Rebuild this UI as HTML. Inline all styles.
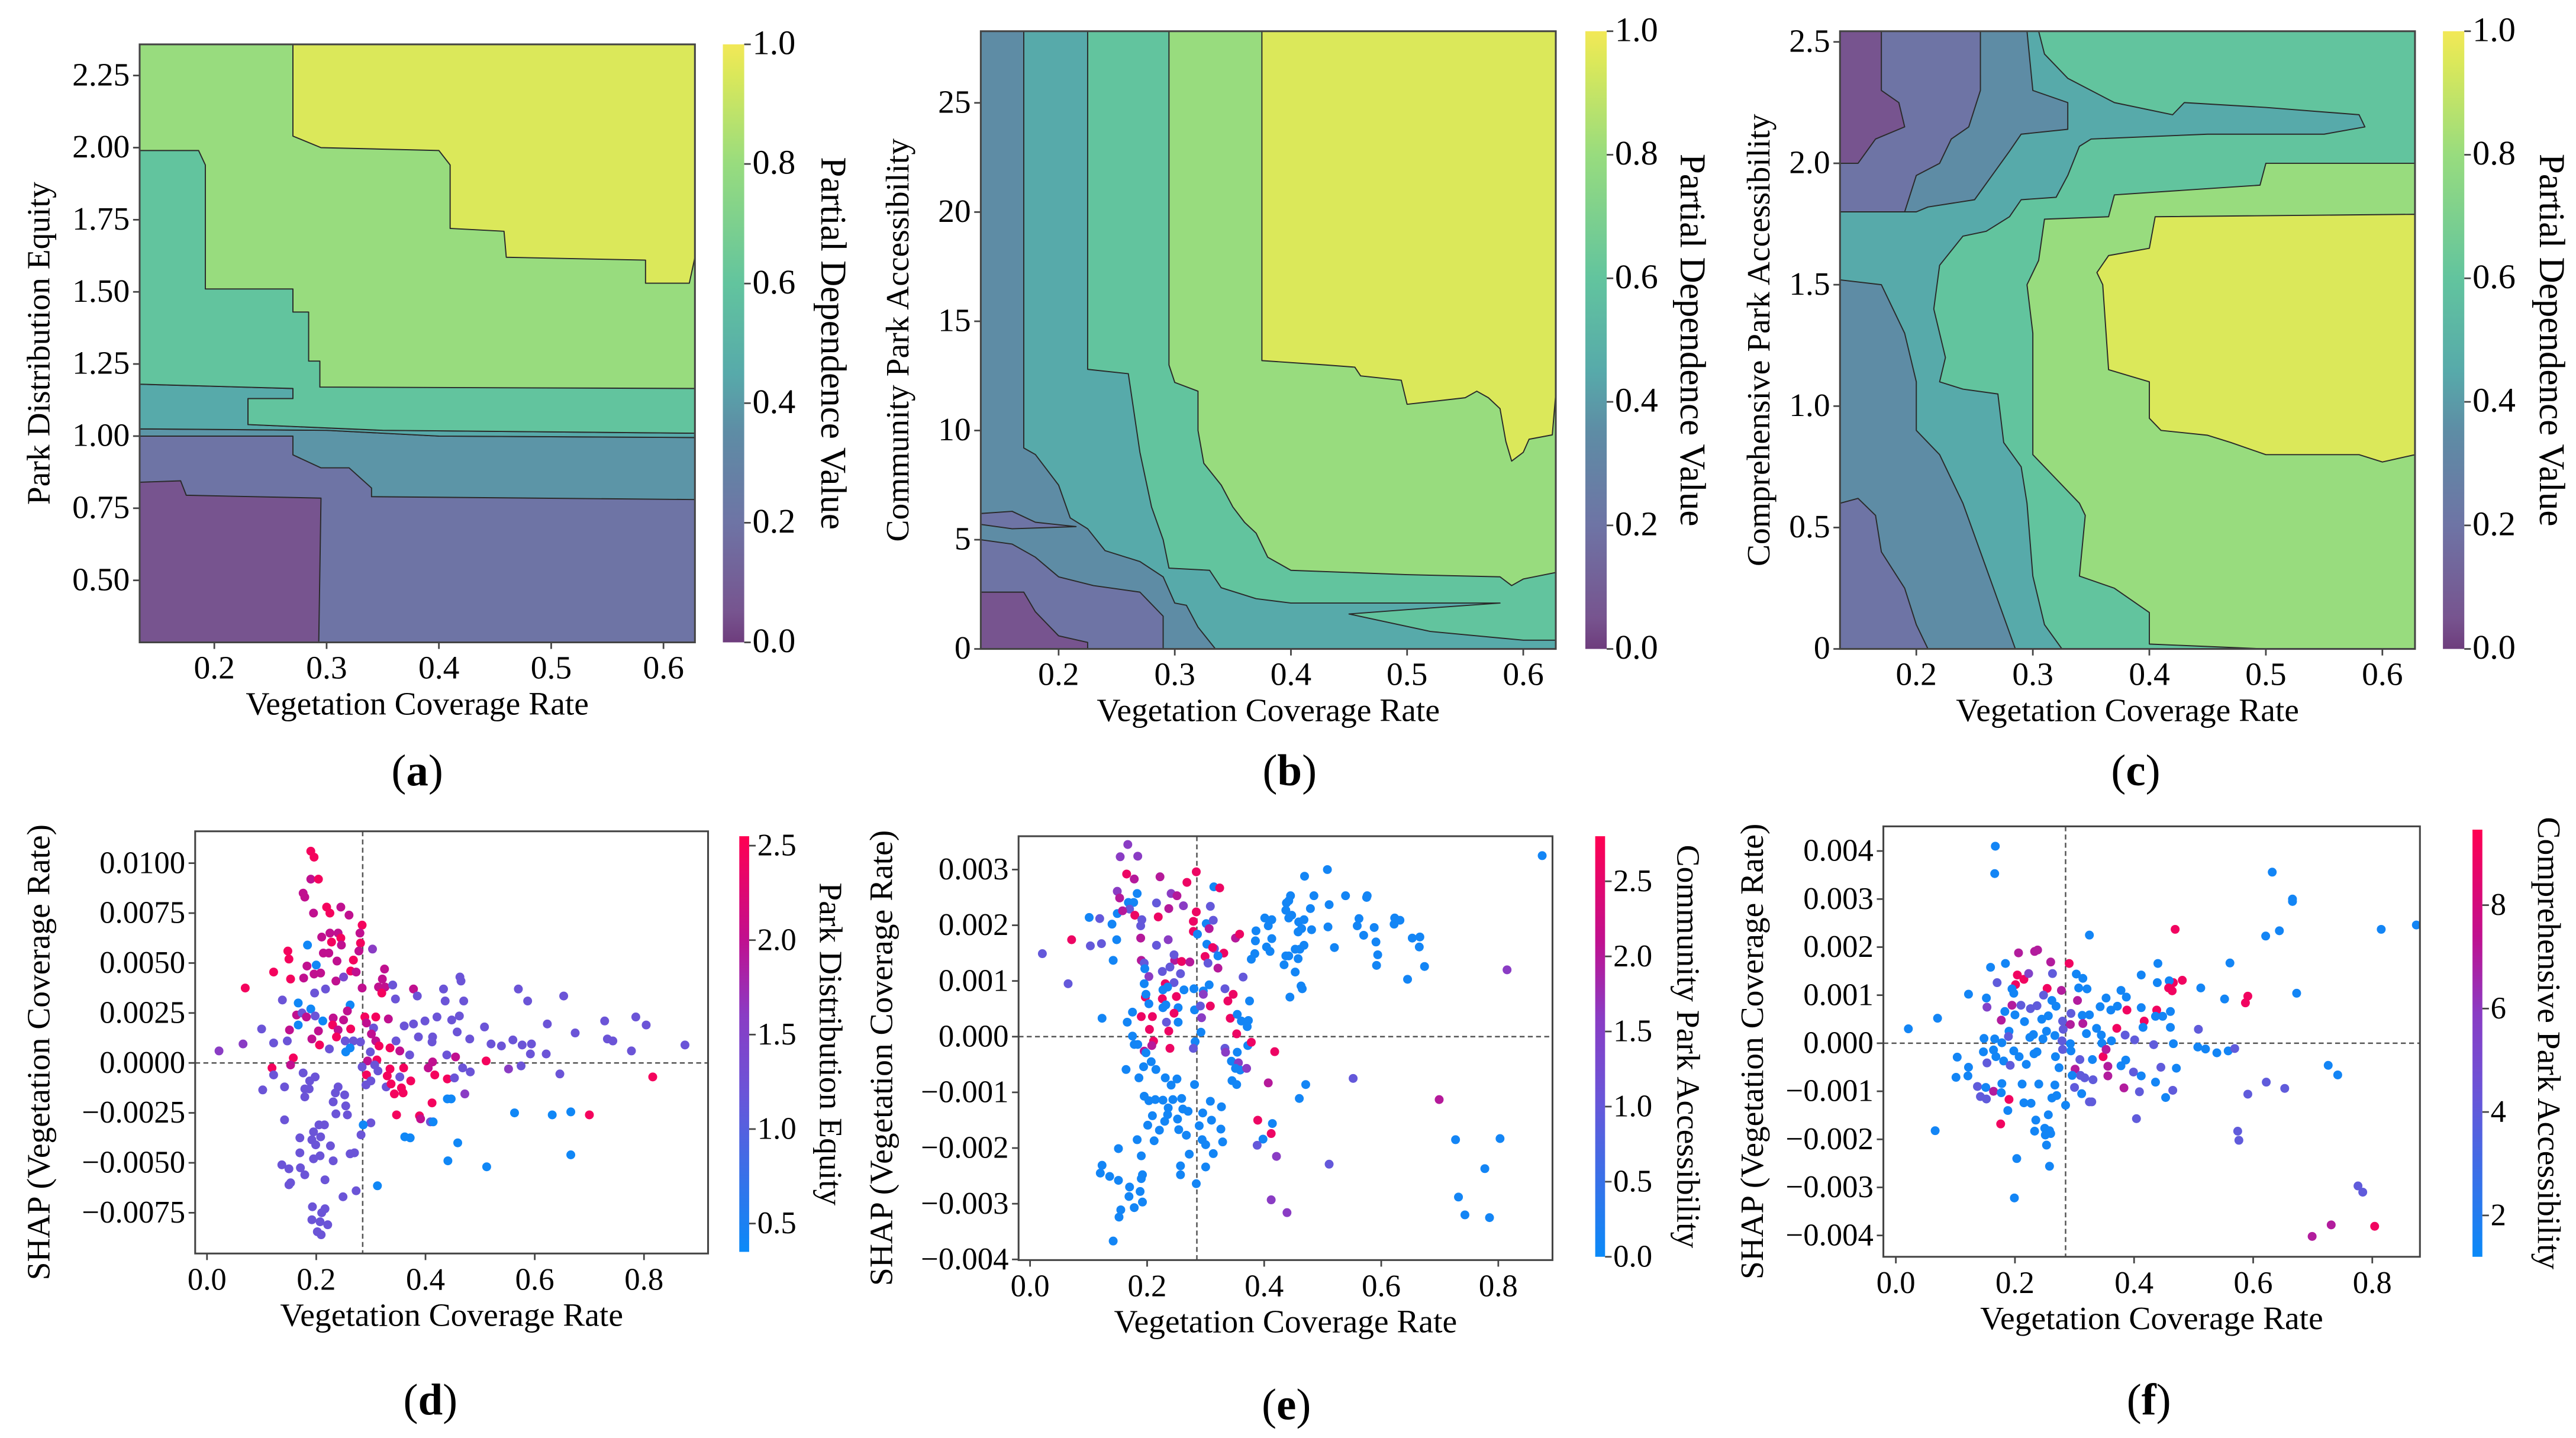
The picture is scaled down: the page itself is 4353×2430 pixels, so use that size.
<!DOCTYPE html>
<html><head><meta charset="utf-8">
<style>
html,body{margin:0;padding:0;background:#fff;}
svg{display:block;font-family:"Liberation Serif","DejaVu Serif",serif;}
svg text{font-family:"Liberation Serif","DejaVu Serif",serif;}
</style></head>
<body>
<svg id="fig" width="4353" height="2430" viewBox="0 0 1568 875.3" preserveAspectRatio="none" xmlns="http://www.w3.org/2000/svg" font-family="Liberation Serif, serif"></svg>
<script>
// ---------- Contour region data (data coordinates; [level, points]) ----------
const aRegions = [
 [0.8,[[0.1335,0.285],[0.628,0.285],[0.628,2.358],[0.1335,2.358]]],
 [0.2,[[0.1335,0.285],[0.628,0.285],[0.628,1.0],[0.1335,1.0]]],
 [0.38,[[0.1335,1.025],[0.3,1.02],[0.4,1.0],[0.628,0.995],[0.628,0.78],[0.34,0.79],[0.34,0.82],[0.32,0.89],[0.295,0.89],[0.27,0.935],[0.27,1.0],[0.1335,1.0]]],
 [0.45,[[0.1335,1.18],[0.27,1.165],[0.27,1.13],[0.23,1.13],[0.23,1.04],[0.35,1.02],[0.628,1.01],[0.628,0.995],[0.4,1.0],[0.3,1.02],[0.1335,1.025]]],
 [0.6,[[0.1335,1.99],[0.186,1.99],[0.192,1.94],[0.192,1.51],[0.27,1.51],[0.27,1.43],[0.284,1.43],[0.284,1.26],[0.294,1.26],[0.294,1.17],[0.628,1.165],[0.628,1.01],[0.35,1.02],[0.23,1.04],[0.23,1.13],[0.27,1.13],[0.27,1.165],[0.1335,1.18]]],
 [0.95,[[0.27,2.358],[0.628,2.358],[0.628,1.62],[0.623,1.53],[0.584,1.53],[0.584,1.61],[0.46,1.62],[0.458,1.71],[0.41,1.72],[0.41,1.94],[0.4,1.99],[0.295,2.0],[0.27,2.04]]],
 [0.05,[[0.1335,0.84],[0.17,0.845],[0.175,0.795],[0.295,0.785],[0.293,0.285],[0.1335,0.285]]]
];
const bRegions = [
 [0.8,[[0.133,0],[0.628,0],[0.628,28.28],[0.133,28.28]]],
 [0.6,[[0.133,28.28],[0.295,28.28],[0.295,13],[0.3,12.2],[0.32,11.8],[0.32,10],[0.325,8.5],[0.34,7.5],[0.35,6.5],[0.36,5.8],[0.37,5.3],[0.38,4.2],[0.4,3.6],[0.5,3.4],[0.58,3.3],[0.59,2.9],[0.6,3.2],[0.628,3.5],[0.628,0],[0.133,0]]],
 [0.45,[[0.133,28.28],[0.225,28.28],[0.225,12.8],[0.26,12.6],[0.27,9],[0.28,6.5],[0.29,5],[0.295,3.7],[0.33,3.6],[0.34,2.8],[0.37,2.3],[0.4,2.1],[0.5,2.1],[0.58,2.1],[0.5,1.8],[0.45,1.6],[0.52,0.8],[0.6,0.4],[0.628,0.4],[0.628,0],[0.133,0]]],
 [0.35,[[0.133,28.28],[0.17,28.28],[0.17,9.2],[0.18,8.9],[0.2,7.5],[0.21,6],[0.225,5.5],[0.24,4.5],[0.27,4.0],[0.29,3.3],[0.3,2.1],[0.31,2.0],[0.32,1.0],[0.335,0],[0.133,0]]],
 [0.2,[[0.133,5.0],[0.16,4.8],[0.18,4.2],[0.2,3.3],[0.23,2.9],[0.27,2.6],[0.29,1.5],[0.29,0],[0.133,0]]],
 [0.2,[[0.133,6.2],[0.16,6.3],[0.18,5.8],[0.215,5.6],[0.16,5.5],[0.133,5.7]]],
 [0.05,[[0.133,2.6],[0.17,2.6],[0.18,1.7],[0.2,0.6],[0.225,0.3],[0.225,0],[0.133,0]]],
 [0.95,[[0.375,28.28],[0.628,28.28],[0.628,11.7],[0.625,9.8],[0.605,9.6],[0.6,9.0],[0.59,8.6],[0.585,9.5],[0.58,11],[0.57,11.5],[0.56,11.8],[0.55,11.5],[0.5,11.2],[0.495,12.3],[0.46,12.5],[0.455,12.9],[0.43,13],[0.375,13.2]]]
];
const cRegions = [
 [0.6,[[0.1345,0],[0.628,0],[0.628,2.544],[0.1345,2.544]]],
 [0.8,[[0.4,0.02],[0.5,0],[0.628,0],[0.628,2.0],[0.5,2.0],[0.495,1.91],[0.37,1.87],[0.365,1.78],[0.31,1.77],[0.305,1.6],[0.295,1.5],[0.3,1.3],[0.3,0.8],[0.32,0.7],[0.34,0.6],[0.345,0.55],[0.34,0.3],[0.37,0.25],[0.4,0.15]]],
 [0.95,[[0.405,1.78],[0.628,1.79],[0.628,0.8],[0.6,0.77],[0.58,0.8],[0.5,0.8],[0.47,0.85],[0.45,0.88],[0.41,0.9],[0.4,0.95],[0.4,1.1],[0.365,1.15],[0.36,1.5],[0.355,1.55],[0.365,1.62],[0.4,1.65]]],
 [0.45,[[0.1345,2.544],[0.305,2.544],[0.31,2.45],[0.33,2.35],[0.37,2.25],[0.42,2.2],[0.43,2.25],[0.5,2.23],[0.58,2.2],[0.585,2.15],[0.55,2.12],[0.45,2.12],[0.35,2.1],[0.34,2.07],[0.33,1.95],[0.32,1.86],[0.29,1.85],[0.28,1.78],[0.26,1.72],[0.24,1.7],[0.22,1.58],[0.215,1.4],[0.225,1.2],[0.22,1.1],[0.24,1.07],[0.27,1.05],[0.275,0.85],[0.29,0.75],[0.295,0.6],[0.3,0.3],[0.31,0.1],[0.325,0],[0.1345,0]]],
 [0.35,[[0.1345,2.544],[0.295,2.544],[0.3,2.3],[0.33,2.25],[0.33,2.14],[0.29,2.12],[0.28,2.05],[0.265,1.95],[0.25,1.85],[0.21,1.82],[0.2,1.8],[0.1345,1.8]]],
 [0.35,[[0.1345,1.52],[0.17,1.5],[0.19,1.3],[0.2,1.1],[0.2,0.9],[0.22,0.8],[0.24,0.6],[0.255,0.4],[0.27,0.2],[0.285,0],[0.1345,0]]],
 [0.2,[[0.17,2.544],[0.255,2.544],[0.255,2.3],[0.245,2.15],[0.23,2.1],[0.22,2.0],[0.2,1.95],[0.19,1.8],[0.1345,1.8],[0.1345,2.544]]],
 [0.2,[[0.1345,0.6],[0.15,0.62],[0.165,0.55],[0.17,0.4],[0.19,0.25],[0.2,0.1],[0.21,0],[0.1345,0]]],
 [0.05,[[0.1345,2.544],[0.17,2.544],[0.17,2.3],[0.185,2.25],[0.19,2.15],[0.165,2.1],[0.15,2.0],[0.1345,2.0]]]
];
const aXTicks=[0.2,0.3,0.4,0.5,0.6];
const aYTicks=[0.5,0.75,1.0,1.25,1.5,1.75,2.0,2.25];
const bYTicks=[0,5,10,15,20,25];
const cYTicks=[0,0.5,1.0,1.5,2.0,2.5];
const cbTicks=[0,0.2,0.4,0.6,0.8,1.0];

// ---------- Scatter data [x, shap(x1e-3), colour feature] ----------
const dPoints=[[.19,10.6,2.45],[.196,10.3,2.45],[.19,9.2,2.0],[.204,9.2,2.45],[.176,8.5,2.0],[.179,8.3,2.0],[.195,7.5,2.0],[.219,7.8,2.45],[.225,7.5,2.45],[.245,7.8,2.0],[.26,7.4,2.0],[.284,6.9,2.45],[.28,6.5,2.0],[.281,6.0,2.45],[.225,6.5,2.0],[.24,6.5,2.0],[.245,6.25,2.45],[.228,6.05,2.45],[.246,5.9,2.0],[.21,6.3,2.0],[.148,5.6,2.45],[.15,5.2,2.45],[.184,5.9,0.4],[.213,5.5,2.0],[.223,5.5,2.0],[.238,5.1,2.0],[.268,5.15,2.45],[.278,5.6,2.0],[.303,5.7,1.6],[.2,4.9,0.4],[.183,4.85,2.0],[.208,4.5,2.0],[.196,4.45,2.0],[.122,4.55,2.45],[.263,4.6,2.45],[.273,4.55,2.0],[.325,4.7,2.0],[.177,4.25,2.0],[.236,4.1,2.0],[.25,4.3,1.4],[.153,4.2,2.45],[.07,3.75,2.45],[.284,3.75,2.0],[.314,3.8,2.0],[.326,3.8,2.0],[.321,4.2,2.0],[.32,3.5,2.45],[.34,3.9,1.2],[.378,3.7,2.0],[.433,3.7,1.2],[.463,4.3,1.2],[.465,4.1,1.2],[.57,3.7,1.2],[.653,3.35,1.2],[.587,3.1,1.2],[.138,3.15,1.2],[.167,3.0,0.4],[.19,2.7,0.4],[.262,2.9,0.4],[.345,3.2,1.2],[.436,3.1,1.2],[.47,3.1,1.2],[.385,3.35,1.2],[.197,3.5,1.2],[.217,3.7,1.2],[.164,2.4,2.0],[.174,2.5,1.2],[.182,2.3,2.0],[.198,2.35,1.2],[.212,2.1,0.4],[.231,2.25,2.0],[.25,2.15,2.0],[.257,2.6,2.0],[.289,2.3,2.45],[.309,2.3,2.45],[.332,2.2,2.0],[.421,2.3,1.2],[.448,2.15,1.2],[.462,2.35,1.2],[.399,2.1,1.2],[.361,1.85,1.2],[.378,1.95,1.2],[.623,1.95,1.2],[.728,2.1,1.2],[.785,2.3,1.2],[.804,1.9,1.2],[.1,1.7,1.2],[.151,1.65,2.0],[.167,1.9,0.4],[.204,1.6,2.0],[.23,1.9,2.45],[.24,1.65,2.0],[.263,1.7,2.45],[.292,2.0,2.0],[.305,1.75,1.2],[.301,1.45,2.0],[.508,1.8,1.2],[.458,1.55,1.2],[.674,1.5,1.2],[.733,1.2,1.2],[.743,1.1,1.2],[.066,0.95,1.6],[.022,0.6,1.6],[.122,1.0,1.2],[.147,1.1,1.2],[.192,1.2,2.0],[.206,0.9,2.45],[.224,0.7,1.2],[.237,1.3,2.45],[.253,1.1,1.2],[.268,1.1,1.2],[.281,1.05,1.2],[.309,1.1,2.0],[.315,0.85,2.45],[.335,0.75,2.45],[.346,1.1,1.2],[.387,1.3,1.2],[.412,1.05,1.2],[.413,1.3,1.2],[.481,1.2,1.2],[.52,0.95,1.2],[.539,0.85,1.2],[.56,1.15,1.2],[.577,0.9,1.2],[.594,0.95,1.2],[.592,0.45,1.2],[.621,0.45,1.2],[.777,0.6,1.2],[.875,0.9,1.2],[.254,0.55,0.4],[.262,0.75,0.4],[.299,0.55,1.2],[.294,0.1,2.0],[.311,0.15,2.45],[.353,0.6,2.0],[.371,0.4,1.2],[.439,0.4,1.2],[.455,0.3,2.0],[.511,0.1,2.45],[.158,0.25,2.45],[.153,-0.1,2.0],[.119,-0.25,2.45],[.122,-0.6,1.2],[.284,-0.2,1.2],[.307,-0.1,1.2],[.313,-0.4,1.2],[.335,-0.3,2.45],[.36,-0.25,2.45],[.405,-0.25,2.0],[.413,0.05,2.0],[.468,-0.25,1.2],[.482,-0.45,1.2],[.552,-0.3,1.6],[.575,-0.15,1.2],[.646,-0.55,1.2],[.816,-0.7,2.45],[.292,-0.6,2.45],[.33,-0.65,2.45],[.353,-0.7,1.2],[.417,-0.6,2.45],[.44,-0.8,2.45],[.453,-0.75,1.2],[.176,-0.5,1.2],[.198,-0.7,1.2],[.188,-0.9,1.2],[.102,-1.35,1.2],[.142,-1.2,1.2],[.179,-1.3,1.2],[.187,-1.3,1.2],[.179,-1.7,1.2],[.24,-1.2,1.2],[.235,-1.5,1.2],[.252,-1.6,1.2],[.291,-1.1,1.2],[.3,-0.9,1.2],[.328,-1.2,1.2],[.337,-1.05,2.45],[.343,-1.55,2.45],[.356,-1.25,2.45],[.359,-1.5,2.45],[.373,-0.9,2.45],[.472,-1.55,1.6],[.231,-1.95,1.2],[.254,-2.15,1.2],[.236,-2.55,1.2],[.257,-2.6,1.2],[.347,-2.6,2.45],[.389,-2.65,2.45],[.391,-2.8,2.0],[.412,-2.0,2.45],[.409,-2.95,1.2],[.414,-2.95,0.4],[.44,-1.8,0.4],[.447,-1.8,0.4],[.563,-2.5,0.4],[.632,-2.6,0.4],[.666,-2.45,0.4],[.7,-2.6,2.45],[.142,-2.85,1.2],[.3,-3.0,1.2],[.286,-3.1,0.4],[.282,-3.6,1.2],[.205,-3.1,1.2],[.215,-3.1,1.2],[.195,-3.45,1.2],[.208,-3.7,1.2],[.17,-3.75,1.2],[.192,-3.85,1.2],[.199,-4.1,1.2],[.226,-4.15,1.2],[.362,-3.7,0.4],[.372,-3.75,0.4],[.459,-4.0,0.4],[.17,-4.5,1.2],[.207,-4.65,1.2],[.195,-4.8,1.2],[.231,-4.9,1.2],[.262,-4.55,1.2],[.27,-4.5,1.2],[.137,-5.1,1.2],[.15,-5.3,1.2],[.171,-5.25,1.2],[.179,-5.6,1.2],[.216,-5.85,1.2],[.153,-6.0,1.2],[.15,-6.1,1.2],[.273,-6.4,1.2],[.249,-6.7,1.2],[.312,-6.15,0.4],[.441,-4.9,0.4],[.512,-5.2,0.4],[.666,-4.6,0.4],[.193,-7.2,1.2],[.216,-7.3,1.2],[.192,-7.85,1.2],[.21,-7.5,1.2],[.207,-7.95,1.2],[.221,-8.1,1.2],[.202,-8.45,1.2],[.209,-8.6,1.2]];
const ePoints=[[.167,3.45,1.6],[.154,3.23,1.6],[.184,3.24,1.6],[.165,2.92,2.6],[.178,2.83,2.0],[.222,2.87,2.0],[.284,2.96,2.6],[.268,2.77,2.6],[.314,2.69,0.1],[.324,2.67,2.6],[.149,2.61,1.6],[.153,2.49,2.0],[.183,2.57,0.1],[.168,2.41,0.1],[.177,2.41,0.1],[.241,2.57,1.6],[.251,2.53,2.0],[.216,2.4,1.0],[.262,2.35,1.6],[.308,2.34,1.0],[.284,2.24,2.6],[.149,2.21,0.1],[.17,2.29,1.0],[.158,2.26,2.0],[.237,2.3,2.0],[.179,2.18,2.6],[.219,2.15,2.6],[.101,2.14,0.1],[.119,2.12,1.0],[.14,2.02,0.1],[.191,2.1,1.0],[.189,1.99,1.0],[.279,2.07,2.6],[.301,2.03,0.1],[.313,2.09,1.0],[.306,1.94,2.0],[.279,1.89,2.6],[.286,1.84,0.1],[.071,1.74,2.6],[.148,1.74,0.1],[.189,1.77,2.0],[.236,1.74,1.6],[.351,1.77,2.0],[.358,1.84,2.6],[.103,1.63,1.0],[.122,1.67,1.0],[.021,1.49,1.0],[.216,1.64,1.0],[.302,1.66,0.1],[.315,1.58,1.0],[.312,1.6,2.6],[.331,1.5,2.6],[.299,1.44,2.6],[.321,1.45,0.1],[.142,1.37,0.1],[.19,1.37,2.0],[.195,1.32,1.0],[.247,1.37,2.0],[.246,1.47,1.0],[.259,1.35,2.6],[.273,1.34,2.0],[.239,1.25,1.0],[.196,1.22,0.1],[.226,1.17,1.0],[.257,1.13,1.0],[.304,1.32,1.0],[.321,1.23,2.0],[.203,1.08,1.6],[.364,1.07,1.0],[.065,0.95,1.0],[.195,0.95,0.1],[.231,0.95,2.6],[.246,0.97,1.0],[.227,0.84,0.1],[.235,0.89,0.1],[.263,0.84,0.1],[.28,0.86,0.1],[.296,0.82,0.1],[.306,0.93,0.1],[.333,0.86,1.0],[.347,0.76,2.6],[.296,0.76,1.6],[.197,0.71,2.6],[.198,0.76,0.1],[.226,0.68,2.6],[.25,0.72,2.6],[.203,0.59,0.1],[.227,0.52,0.1],[.232,0.57,0.1],[.253,0.52,0.1],[.281,0.48,0.1],[.308,0.55,2.6],[.338,0.64,2.6],[.291,0.55,1.0],[.375,0.64,0.1],[.123,0.33,0.1],[.166,0.26,0.1],[.175,0.44,0.1],[.19,0.36,2.6],[.209,0.36,2.6],[.233,0.26,1.0],[.246,0.42,2.6],[.253,0.26,0.1],[.293,0.34,1.6],[.342,0.33,2.6],[.354,0.4,0.1],[.361,0.28,0.1],[.373,0.29,0.1],[.371,0.18,0.1],[.204,0.13,2.6],[.237,0.1,2.6],[.292,0.08,0.1],[.353,0.05,2.6],[.175,0.01,0.1],[.178,-0.14,0.1],[.184,-0.14,0.1],[.211,-0.08,2.6],[.208,-0.16,2.0],[.239,-0.21,2.6],[.195,-0.26,2.0],[.198,-0.29,0.1],[.282,-0.09,0.1],[.279,-0.21,1.0],[.333,-0.21,1.0],[.334,-0.28,1.6],[.354,-0.28,0.1],[.372,-0.16,0.1],[.378,-0.1,2.6],[.418,-0.27,2.6],[.344,-0.44,0.1],[.356,-0.47,1.6],[.207,-0.45,0.1],[.194,-0.54,0.1],[.215,-0.59,0.1],[.164,-0.59,0.1],[.351,-0.57,0.1],[.359,-0.6,0.1],[.37,-0.57,1.6],[.186,-0.74,0.1],[.231,-0.74,0.1],[.251,-0.76,0.1],[.241,-0.87,0.1],[.281,-0.86,0.1],[.345,-0.79,0.1],[.353,-0.86,0.1],[.407,-0.83,2.0],[.471,-0.86,0.1],[.552,-0.75,1.0],[.195,-1.07,0.1],[.203,-1.15,0.1],[.214,-1.13,0.1],[.227,-1.14,0.1],[.244,-1.13,0.1],[.259,-1.11,0.1],[.308,-1.16,0.1],[.327,-1.26,0.1],[.236,-1.28,0.1],[.261,-1.3,0.1],[.27,-1.34,0.1],[.46,-1.11,0.1],[.699,-1.13,2.0],[.209,-1.42,0.1],[.235,-1.4,0.1],[.252,-1.48,0.1],[.23,-1.52,0.1],[.295,-1.37,0.1],[.31,-1.5,0.1],[.201,-1.59,0.1],[.254,-1.67,0.1],[.289,-1.6,0.1],[.326,-1.66,0.1],[.221,-1.68,0.1],[.267,-1.77,0.1],[.389,-1.5,2.6],[.414,-1.56,0.1],[.412,-1.74,2.6],[.183,-1.85,0.1],[.212,-1.87,0.1],[.294,-1.85,0.1],[.3,-1.94,0.1],[.329,-1.89,0.1],[.398,-1.84,0.1],[.388,-1.95,1.0],[.727,-1.85,0.1],[.803,-1.83,0.1],[.151,-2.01,0.1],[.19,-2.14,0.1],[.272,-2.11,0.1],[.313,-2.1,0.1],[.421,-2.15,1.6],[.123,-2.31,0.1],[.12,-2.45,0.1],[.136,-2.51,0.1],[.151,-2.58,0.1],[.192,-2.48,0.1],[.19,-2.55,0.1],[.257,-2.32,0.1],[.257,-2.48,0.1],[.3,-2.34,0.1],[.511,-2.29,1.0],[.777,-2.37,0.1],[.17,-2.7,0.1],[.188,-2.78,0.1],[.169,-2.87,0.1],[.192,-2.97,0.1],[.284,-2.64,0.1],[.178,-3.07,0.1],[.155,-3.11,0.1],[.152,-3.24,0.1],[.412,-2.93,1.6],[.439,-3.16,1.6],[.732,-2.88,0.1],[.743,-3.2,0.1],[.785,-3.25,0.1],[.142,-3.67,0.1],[.815,1.2,1.6],[.875,3.25,0.1],[.508,3.0,0.1],[.469,2.88,0.1],[.445,2.53,0.1],[.438,2.4,0.1],[.442,2.44,0.1],[.437,2.27,0.1],[.447,2.18,0.1],[.442,2.13,0.1],[.485,2.53,0.1],[.539,2.53,0.1],[.576,2.53,0.1],[.575,2.5,0.1],[.511,2.37,0.1],[.479,2.3,0.1],[.401,2.13,0.1],[.413,2.1,0.1],[.407,1.99,0.1],[.386,1.9,0.1],[.459,2.06,0.1],[.468,2.1,0.1],[.464,1.94,0.1],[.458,1.88,0.1],[.481,1.92,0.1],[.509,1.97,0.1],[.562,2.12,0.1],[.559,1.99,0.1],[.588,1.96,0.1],[.57,1.82,0.1],[.622,2.02,0.1],[.623,2.13,0.1],[.632,2.09,0.1],[.653,1.77,0.1],[.666,1.79,0.1],[.665,1.61,0.1],[.674,1.26,0.1],[.591,1.7,0.1],[.594,1.47,0.1],[.592,1.28,0.1],[.645,1.03,0.1],[.385,1.72,0.1],[.404,1.61,0.1],[.41,1.53,0.1],[.413,1.76,0.1],[.384,1.49,0.1],[.378,1.39,0.1],[.434,1.29,0.1],[.437,1.45,0.1],[.442,1.45,0.1],[.453,1.57,0.1],[.461,1.57,0.1],[.468,1.64,0.1],[.458,1.4,0.1],[.453,1.16,0.1],[.52,1.6,0.1],[.463,0.91,0.1],[.465,0.86,0.1],[.444,0.71,0.1]];
const fPoints=[[.167,4.1,1.5],[.166,3.53,1.5],[.632,3.56,1.5],[.666,3.0,1.5],[.666,2.95,1.5],[.644,2.34,1.5],[.621,2.23,1.5],[.815,2.37,1.5],[.874,2.46,1.5],[.325,2.25,1.5],[.469,2.37,9],[.206,1.88,7],[.233,1.91,7],[.238,1.94,7],[.159,1.58,1.5],[.184,1.66,1.5],[.26,1.69,7],[.291,1.66,9],[.561,1.67,1.5],[.44,1.66,1.5],[.17,1.26,4],[.204,1.42,9],[.215,1.33,9],[.223,1.45,5.5],[.263,1.45,4],[.303,1.44,1.5],[.314,1.35,1.5],[.412,1.42,1.5],[.481,1.31,9],[.466,1.26,9],[.459,1.3,1.5],[.439,1.26,1.5],[.122,1.02,1.5],[.201,1.22,9],[.195,1.13,1.5],[.254,1.14,9],[.278,1.1,7],[.307,1.15,1.5],[.321,1.13,1.5],[.378,1.1,1.5],[.458,1.15,9],[.464,1.09,9],[.512,1.15,1.5],[.591,0.98,9],[.587,0.84,9],[.552,0.92,1.5],[.673,1.04,1.5],[.152,0.94,1.5],[.198,1.04,1.5],[.248,1.0,4],[.262,0.89,1.5],[.305,0.89,7],[.353,0.94,1.5],[.387,0.96,1.5],[.153,0.75,5.5],[.195,0.79,7],[.21,0.79,4],[.226,0.72,4],[.237,0.78,4],[.269,0.77,1.5],[.343,0.76,1.5],[.372,0.77,1.5],[.412,0.74,1.5],[.361,0.69,1.5],[.388,0.69,9],[.438,0.69,9],[.177,0.48,7],[.183,0.66,1.5],[.2,0.59,1.5],[.216,0.45,1.5],[.245,0.5,1.5],[.256,0.57,1.5],[.28,0.46,4],[.294,0.62,4],[.313,0.58,1.5],[.325,0.59,1.5],[.314,0.41,7],[.293,0.39,7],[.371,0.31,9],[.417,0.46,9],[.415,0.33,1.5],[.436,0.56,1.5],[.448,0.56,1.5],[.461,0.66,1.5],[.461,0.33,1.5],[.508,0.29,4],[.32,0.2,1.5],[.337,0.31,1.5],[.345,0.17,1.5],[.385,0.17,4],[.401,0.07,4],[.19,0.25,1.5],[.189,0.14,4],[.231,0.18,1.5],[.253,0.25,1.5],[.267,0.16,1.5],[.281,0.29,4],[.148,0.1,1.5],[.166,0.09,1.5],[.178,0.01,1.5],[.225,0.12,1.5],[.247,0.09,1.5],[.279,0.05,4],[.293,-0.01,1.5],[.346,0,1.5],[.362,0.05,1.5],[.433,-0.03,4],[.466,-0.01,1.5],[.507,-0.08,1.5],[.52,-0.12,1.5],[.539,-0.2,1.5],[.558,-0.16,1.5],[.569,-0.11,4],[.103,-0.29,1.5],[.147,-0.18,1.5],[.164,-0.14,1.5],[.168,-0.28,1.5],[.153,-0.41,4],[.122,-0.5,1.5],[.101,-0.71,1.5],[.121,-0.68,1.5],[.181,-0.37,1.5],[.192,-0.46,4],[.198,-0.16,1.5],[.207,-0.28,1.5],[.219,-0.44,1.5],[.232,-0.22,1.5],[.237,-0.18,1.5],[.268,-0.28,1.5],[.28,-0.13,4],[.294,-0.16,1.5],[.309,-0.34,4],[.33,-0.34,1.5],[.348,-0.28,9],[.353,-0.13,7],[.274,-0.51,1.5],[.301,-0.54,7],[.31,-0.67,4],[.296,-0.67,1.5],[.317,-0.72,4],[.331,-0.76,4],[.356,-0.48,7],[.356,-0.68,7],[.378,-0.47,1.5],[.386,-0.35,1.5],[.399,-0.6,4],[.412,-0.68,1.5],[.445,-0.5,4],[.471,-0.52,1.5],[.436,-0.81,1.5],[.137,-0.9,4],[.151,-0.92,1.5],[.164,-1.0,7],[.178,-0.84,1.5],[.177,-1.03,1.5],[.19,-1.17,9],[.142,-1.11,4],[.152,-1.16,4],[.212,-0.85,1.5],[.24,-0.85,1.5],[.267,-0.87,1.5],[.262,-1.14,1.5],[.27,-1.09,1.5],[.3,-0.92,4],[.312,-1.05,1.5],[.325,-1.22,4],[.329,-1.22,4],[.383,-0.93,7],[.409,-1.01,4],[.453,-1.13,1.5],[.465,-0.98,4],[.215,-1.24,1.5],[.227,-1.25,1.5],[.188,-1.4,1.5],[.285,-1.29,1.5],[.256,-1.49,1.5],[.235,-1.6,1.5],[.404,-1.57,4],[.726,-0.46,1.5],[.742,-0.66,1.5],[.622,-0.81,4],[.653,-0.94,4],[.591,-1.06,4],[.176,-1.68,9],[.066,-1.82,1.5],[.021,0.3,1.5],[.07,0.52,1.5],[.233,-1.83,1.5],[.25,-1.77,1.5],[.258,-1.82,1.5],[.251,-1.91,1.5],[.26,-1.88,1.5],[.253,-2.12,1.5],[.574,-1.83,4],[.576,-2.02,4],[.203,-2.4,1.5],[.258,-2.56,1.5],[.199,-3.22,1.5],[.776,-2.97,4],[.784,-3.1,4],[.731,-3.78,7],[.699,-4.02,7],[.804,-3.81,9]];
const scatterXTicks=[0,0.2,0.4,0.6,0.8];
const dYTicks=[-0.0075,-0.005,-0.0025,0,0.0025,0.005,0.0075,0.01];
const eYTicks=[-0.004,-0.003,-0.002,-0.001,0,0.001,0.002,0.003];
const fYTicks=[-0.004,-0.003,-0.002,-0.001,0,0.001,0.002,0.003,0.004];
const dCbTicks=[0.5,1.0,1.5,2.0,2.5];
const eCbTicks=[0,0.5,1.0,1.5,2.0,2.5];
const fCbTicks=[2,4,6,8];

// ---------- helpers ----------
const NS="http://www.w3.org/2000/svg";
const FONT='"Liberation Serif", "DejaVu Serif", serif';
const svg=document.getElementById('fig');
function el(tag,attrs,parent,text){const e=document.createElementNS(NS,tag);for(const k in attrs)e.setAttribute(k,attrs[k]);if(tag==='text')e.setAttribute('font-family',FONT);if(text!==undefined)e.textContent=text;(parent||svg).appendChild(e);return e;}
function lin(d0,d1,r0,r1){return v=>r0+(v-d0)/(d1-d0)*(r1-r0);}
function hex(c){return [parseInt(c.slice(1,3),16),parseInt(c.slice(3,5),16),parseInt(c.slice(5,7),16)];}
function ramp(stops,t){t=Math.max(0,Math.min(1,t));for(let i=1;i<stops.length;i++){if(t<=stops[i][0]){const a=stops[i-1],b=stops[i];const f=(t-a[0])/(b[0]-a[0]||1);const A=hex(a[1]),B=hex(b[1]);return 'rgb('+A.map((v,j)=>Math.round(v+(B[j]-v)*f)).join(',')+')';}}return stops[stops.length-1][1];}
const vir=[[0,'#6e3d7d'],[0.05,'#77548f'],[0.2,'#6e74a5'],[0.35,'#5e8ca5'],[0.45,'#57aaaa'],[0.6,'#62c49e'],[0.8,'#98dc7e'],[0.95,'#dbe85a'],[1,'#f2e857']];
const shapMap=[[0,'#0a8af8'],[0.38,'#6a55d8'],[0.57,'#8a3cc4'],[0.75,'#c0108f'],[1,'#ff0052']];
const defs=el('defs',{});
function gradient(id,stops){const g=el('linearGradient',{id:id,x1:0,y1:1,x2:0,y2:0},defs);stops.forEach(s=>el('stop',{offset:s[0],'stop-color':s[1]},g));}
gradient('gvir',vir);gradient('gshap',shapMap);

function fmt(v,dec){let s=Math.abs(v).toFixed(dec);return (v<0?'\u2212':'')+s;}

function axesFrame(g,box,xs,ys,xt,yt,xdec,ydec,fs){
  const [l,t,r,b]=box;
  el('rect',{x:l,y:t,width:r-l,height:b-t,fill:'none',stroke:'#444','stroke-width':1.1},g);
  xt.forEach(v=>{const x=xs(v);
    const tk=el('line',{x1:x,x2:x,y1:b,y2:b+4,stroke:'#444','stroke-width':1},g);
    
    const tx=el('text',{x:x,y:b+22,'text-anchor':'middle','font-size':fs},g,fmt(v,xdec));
    });
  yt.forEach(v=>{const y=ys(v);
    const tk=el('line',{x1:l-4,x2:l,y1:y,y2:y,stroke:'#444','stroke-width':1},g);
    
    const tx=el('text',{x:l-6,y:y+6,'text-anchor':'end','font-size':fs},g,typeof ydec==='function'?ydec(v):fmt(v,ydec));
    });
}
function label(g,x,y,txt,rot,fs,name){
  const t=el('text',{x:x,y:y,'text-anchor':'middle','font-size':fs,transform:rot?`rotate(${rot} ${x} ${y})`:''},g,txt);
  return t;
}
function colorbar(g,x,t,b,w,grad,dom,ticks,dec,fs,title,tx,ty){
  const cs=lin(dom[0],dom[1],b,t);
  const r=el('rect',{x:x,y:t,width:w,height:b-t,fill:`url(#${grad})`},g);
  
  ticks.forEach(v=>{const y=cs(v);el('line',{x1:x+w,x2:x+w+4,y1:y,y2:y,stroke:'#444','stroke-width':1},g);
    const l=el('text',{x:x+w+5,y:y+6,'font-size':fs},g,fmt(v,dec));
    });
  label(g,tx,ty,title,90,fs+1,'colorbar-title');
}

function contourPanel(id,box,xd,yd,regions,yt,ydec,ylab,ylx,cbx,cbtx,letter,lx){
  const g=el('g',{});
  const [l,t,r,b]=box;const xs=lin(xd[0],xd[1],l,r),ys=lin(yd[0],yd[1],b,t);
  const cp=el('clipPath',{id:'clip'+id},defs);el('rect',{x:l,y:t,width:r-l,height:b-t},cp);
  const rg=el('g',{'clip-path':`url(#clip${id})`},g);
  regions.forEach((reg,i)=>{const pts=reg[1].map(p=>xs(p[0]).toFixed(2)+','+ys(p[1]).toFixed(2)).join(' ');
    const p=el('polygon',{points:pts,fill:ramp(vir,reg[0]),stroke:i?'#2a2a2a':'none','stroke-width':0.7,'stroke-linejoin':'round'},rg);
    });
  axesFrame(g,box,xs,ys,aXTicks,yt,1,ydec,20);
  label(g,(l+r)/2,b+44,'Vegetation Coverage Rate',0,20,'x-axis-title');
  label(g,ylx,(t+b)/2,ylab,-90,20,'y-axis-title');
  colorbar(g,cbx,t,b,13,'gvir',[0,1],cbTicks,1,21,'Partial Dependence Value',cbtx,(t+b)/2);
  const L=el('text',{x:lx,y:478,'text-anchor':'middle','font-size':27},g);
  el('tspan',{},L,'(');el('tspan',{'font-weight':'bold'},L,letter);el('tspan',{},L,')');
}
contourPanel('a',[85,27,423,391],[0.1335,0.628],[0.285,2.358],aRegions,aYTicks,2,'Park Distribution Equity',30,440,500,'a',254);
contourPanel('b',[597,19,947,395],[0.133,0.628],[0,28.28],bRegions,bYTicks,0,'Community Park Accessibility',553,965,1023,'b',785);
contourPanel('c',[1120,19,1470,395],[0.1345,0.628],[0,2.544],cRegions,cYTicks,v=>v===0?'0':v.toFixed(1),'Comprehensive Park Accessibility',1077,1487,1546,'c',1300);

function scatterPanel(id,box,x0px,x8px,y0px,yPerUnit,pts,yt,ydec,cb,cbDom,cbTicks,cbDec,cbTitle,cbtx,ylx,letter,lx,ly){
  const g=el('g',{});
  const [l,t,r,b]=box;
  const xs=lin(0,0.8,x0px,x8px);const ys=v=>y0px-v*yPerUnit;
  const cp=el('clipPath',{id:'clip'+id},defs);el('rect',{x:l,y:t,width:r-l,height:b-t},cp);
  const pg=el('g',{'clip-path':`url(#clip${id})`},g);
  el('line',{x1:l,x2:r,y1:ys(0),y2:ys(0),stroke:'#555','stroke-width':0.9,'stroke-dasharray':'3,2'},pg);
  el('line',{x1:xs(0.285),x2:xs(0.285),y1:t,y2:b,stroke:'#555','stroke-width':0.9,'stroke-dasharray':'3,2'},pg);
  pts.forEach(p=>{const c=el('circle',{cx:xs(p[0]).toFixed(2),cy:ys(p[1]/1000).toFixed(2),r:2.7,fill:ramp(shapMap,(p[2]-cbDom[0])/(cbDom[1]-cbDom[0]))},pg);
    });
  axesFrame(g,box,xs,ys,scatterXTicks,yt,1,ydec,19);
  label(g,(l+r)/2,b+44,'Vegetation Coverage Rate',0,20,'x-axis-title');
  label(g,ylx,(t+b)/2+6,'SHAP (Vegetation Coverage Rate)',-90,20,'y-axis-title');
  colorbar(g,cb[0],cb[1],cb[2],6,'gshap',cbDom,cbTicks,cbDec,19,cbTitle,cbtx,(cb[1]+cb[2])/2);
  const L=el('text',{x:lx,y:ly,'text-anchor':'middle','font-size':27},g);
  el('tspan',{},L,'(');el('tspan',{'font-weight':'bold'},L,letter);el('tspan',{},L,')');
}
scatterPanel('d',[118.8,506,431,763],126,392,647,12160,dPoints,dYTicks,4,[450,509,762],[0.35,2.55],dCbTicks,1,'Park Distribution Equity',499,30,'d',262,861);
scatterPanel('e',[620,509,945,767],627,912,631,33900,ePoints,eYTicks,3,[971,509,765],[0,2.8],eCbTicks,1,'Community Park Accessibility',1021,543,'e',783,864);
scatterPanel('f',[1146.4,503,1473,765],1154,1444,635,29250,fPoints,fYTicks,3,[1505,505,765],[1.2,9.46],fCbTicks,0,'Comprehensive Park Accessibility',1545,1073,'f',1308,861);
</script>
</body></html>
